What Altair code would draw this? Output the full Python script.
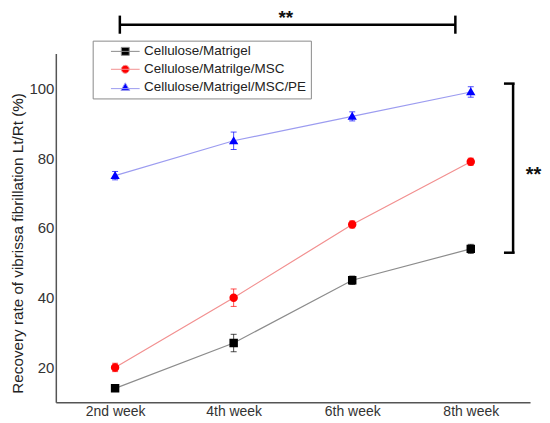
import json
import altair as alt
import pandas as pd

weeks = ["2nd week", "4th week", "6th  week", "8th week"]
series = ["Cellulose/Matrigel", "Cellulose/Matrilge/MSC", "Cellulose/Matrigel/MSC/PE"]
vals_a = [14, 27, 45, 54]
vals_b = [20, 40, 61, 79]
vals_c = [75, 85, 92, 99]
err_a = [0.8, 2.5, 1.2, 1.3]
err_b = [1.2, 2.5, 1.0, 1.0]
err_c = [1.2, 2.5, 1.3, 1.5]

marker_colors = ["#000000", "#ff0000", "#0000ff"]
line_colors = ["#8c8c8c", "#f29090", "#9c9cf0"]
shape_paths = [
    "M-3.6,0H3.6M-1,-1H1V1H-1Z",
    "M-3.6,0H3.6M-1,0A1,1 0 1,0 1,0A1,1 0 1,0 -1,0Z",
    "M-3.6,0.35H3.6M0,-1.1L1.1,0.8L-1.1,0.8Z",
]

rows = []
for s, vals, errs in zip(series, [vals_a, vals_b, vals_c], [err_a, err_b, err_c]):
    for i, (w, v, e) in enumerate(zip(weeks, vals, errs)):
        rows.append({"series": s, "week": w, "idx": i, "value": v, "lo": v - e, "hi": v + e})
df = pd.DataFrame(rows)

FONT = "Liberation Sans"
label_expr = json.dumps(weeks) + "[datum.value]"

x_enc = alt.X("idx:Q", scale=alt.Scale(domain=[-0.5, 3.5], nice=False, zero=False),
              axis=alt.Axis(values=[0, 1, 2, 3], labelExpr=label_expr, title=None, grid=False,
                            ticks=False, labelFontSize=14, labelColor="#333333", labelFont=FONT,
                            labelPadding=2, domainColor="#555555", domainWidth=1.5))
y_enc = alt.Y("value:Q", scale=alt.Scale(domain=[10, 110], nice=False, zero=False),
              axis=alt.Axis(values=[20, 40, 60, 80, 100], grid=False, ticks=False,
                            labelFontSize=15, labelColor="#333333", labelFont=FONT, labelPadding=2,
                            domainColor="#555555", domainWidth=1.5,
                            title="Recovery rate of vibrissa fibrillation Lt/Rt (%)",
                            titleFont=FONT, titleFontSize=15.3, titleFontWeight="normal",
                            titleColor="#222222", titleX=-38, titleY=190, titleAngle=-90,
                            titleAlign="center", titleBaseline="middle"))

legend = alt.Legend(title=None, orient="none", legendX=37, legendY=-13, strokeColor="#8a8a8a",
                    padding=4, symbolOffset=22, labelOffset=12, labelFontSize=13.5, labelFont=FONT,
                    labelColor="#222222", rowPadding=3, symbolSize=64, symbolStrokeWidth=1,
                    labelLimit=400)

base = alt.Chart(df)

lines = base.mark_line(strokeWidth=1.2).encode(
    x=x_enc, y=y_enc,
    stroke=alt.Stroke("series:N", sort=series, scale=alt.Scale(domain=series, range=line_colors), legend=legend),
    detail="series:N",
)

err_rule = base.mark_rule(strokeWidth=1, opacity=0.7).encode(
    x="idx:Q", y="lo:Q", y2="hi:Q",
    color=alt.Color("series:N", scale=alt.Scale(domain=series, range=marker_colors), legend=None),
)
cap_hi = base.mark_tick(orient="horizontal", size=6, thickness=1, opacity=0.7).encode(
    x="idx:Q", y="hi:Q",
    color=alt.Color("series:N", scale=alt.Scale(domain=series, range=marker_colors), legend=None),
)
cap_lo = base.mark_tick(orient="horizontal", size=6, thickness=1, opacity=0.7).encode(
    x="idx:Q", y="lo:Q",
    color=alt.Color("series:N", scale=alt.Scale(domain=series, range=marker_colors), legend=None),
)

points = base.mark_point(filled=True, opacity=1, size=72, strokeWidth=0).encode(
    x="idx:Q", y="value:Q",
    fill=alt.Fill("series:N", sort=series, scale=alt.Scale(domain=series, range=marker_colors), legend=legend),
    shape=alt.Shape("series:N", sort=series, scale=alt.Scale(domain=series, range=shape_paths), legend=legend),
)

# significance annotations (data units)
top_h = pd.DataFrame({"x": [0.04], "x2": [2.87], "y": [118.3]})
top_caps = pd.DataFrame({"x": [0.04, 2.87], "y": [115.7, 115.7], "y2": [120.9, 120.9]})
right_v = pd.DataFrame({"x": [3.357], "y": [52.9], "y2": [101.4]})
right_h = pd.DataFrame({"x": [3.28, 3.28], "x2": [3.37, 3.37], "y": [101.4, 52.9]})
star_top = pd.DataFrame({"x": [1.44], "y": [122.8], "t": ["**"]})
star_right = pd.DataFrame({"x": [3.53], "y": [75.2], "t": ["**"]})

a1 = alt.Chart(top_h).mark_rule(color="black", strokeWidth=2.5).encode(x="x:Q", x2="x2:Q", y="y:Q")
a2 = alt.Chart(top_caps).mark_rule(color="black", strokeWidth=2.5).encode(x="x:Q", y="y:Q", y2="y2:Q")
a3 = alt.Chart(right_v).mark_rule(color="black", strokeWidth=2.5).encode(x="x:Q", y="y:Q", y2="y2:Q")
a4 = alt.Chart(right_h).mark_rule(color="black", strokeWidth=2.5).encode(x="x:Q", x2="x2:Q", y="y:Q")
a5 = alt.Chart(star_top).mark_text(font=FONT, fontSize=19, fontWeight="bold", color="#111111",
                                   align="center", baseline="top").encode(x="x:Q", y="y:Q", text="t:N")
a6 = alt.Chart(star_right).mark_text(font=FONT, fontSize=20, fontWeight="bold", color="#111111",
                                     align="center", baseline="middle").encode(x="x:Q", y="y:Q", text="t:N")

chart = alt.layer(lines, err_rule, cap_hi, cap_lo, points, a1, a2, a3, a4, a5, a6).resolve_scale(
    color="independent"
).properties(
    width=476, height=350,
    autosize=alt.AutoSizeParams(type="none"),
    padding={"left": 48, "top": 45, "right": 12, "bottom": 19},
).configure_view(stroke=None)

chart.save("out.html", embed_options={"renderer": "svg", "actions": False})
